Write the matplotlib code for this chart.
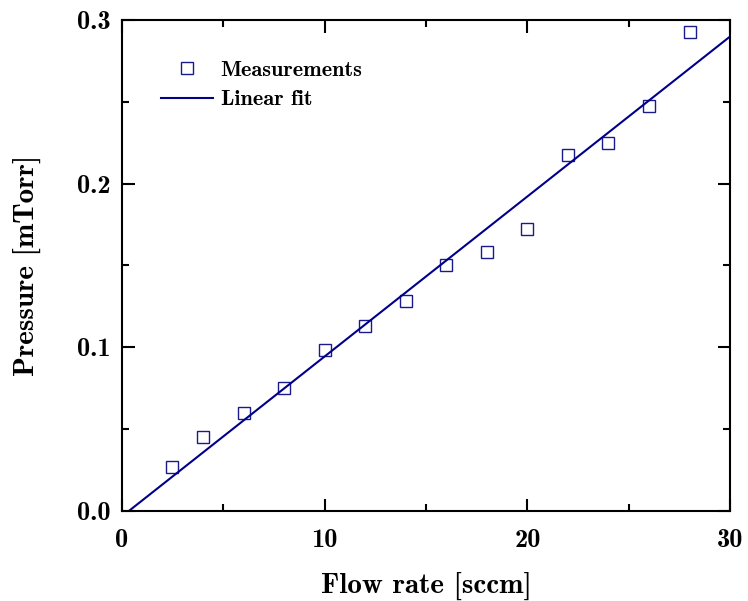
import numpy as np
import matplotlib.pyplot as plt
from matplotlib.ticker import MultipleLocator

flow = [2.45, 4.0, 6.0, 8.0, 10.0, 12.0, 14.0, 16.0, 18.0, 20.0, 22.0, 24.0, 26.0, 28.0]
pressure = [0.0265, 0.045, 0.060, 0.075, 0.098, 0.113, 0.128, 0.150, 0.158, 0.172,
            0.2175, 0.225, 0.2475, 0.2927]

# linear fit as drawn
fit_slope = 0.009774
fit_intercept = -0.00342

plt.rcParams['font.family'] = 'cmb10'
plt.rcParams['mathtext.fontset'] = 'cm'
plt.rcParams['axes.unicode_minus'] = False

fig = plt.figure(figsize=(7.48, 6.01), dpi=100)
ax = fig.add_axes([0.163, 0.150, 0.813, 0.817])

x_fit = np.linspace(0, 30, 200)
ax.plot(flow, pressure, 's', mfc='white', mec='#1a1a8c', ms=8, mew=1.0,
        label='Measurements')
ax.plot(x_fit, fit_slope * x_fit + fit_intercept, color='#00008b', lw=1.5,
        label='Linear fit')

ax.set_xlim(0, 30)
ax.set_ylim(0, 0.3)
ax.xaxis.set_major_locator(MultipleLocator(10))
ax.xaxis.set_minor_locator(MultipleLocator(5))
ax.yaxis.set_major_locator(MultipleLocator(0.1))
ax.yaxis.set_minor_locator(MultipleLocator(0.05))
ax.tick_params(which='both', direction='in', top=True, right=True, width=1.5,
               labelsize=19)
ax.tick_params(axis='x', pad=13)
ax.tick_params(axis='y', pad=8)
ax.tick_params(which='major', length=9)
ax.tick_params(which='minor', length=5)
for s in ax.spines.values():
    s.set_linewidth(1.5)

ax.set_xlabel('Flow rate [sccm]', fontsize=21, labelpad=14)
ax.set_ylabel('Pressure [mTorr]', fontsize=21, labelpad=26)

ax.legend(loc='upper left', frameon=False, fontsize=16, handlelength=2.35,
          handletextpad=0.36, borderaxespad=1.2, labelspacing=0.45,
          bbox_to_anchor=(0.005, 0.99))

fig.savefig('out.png', dpi=100)
